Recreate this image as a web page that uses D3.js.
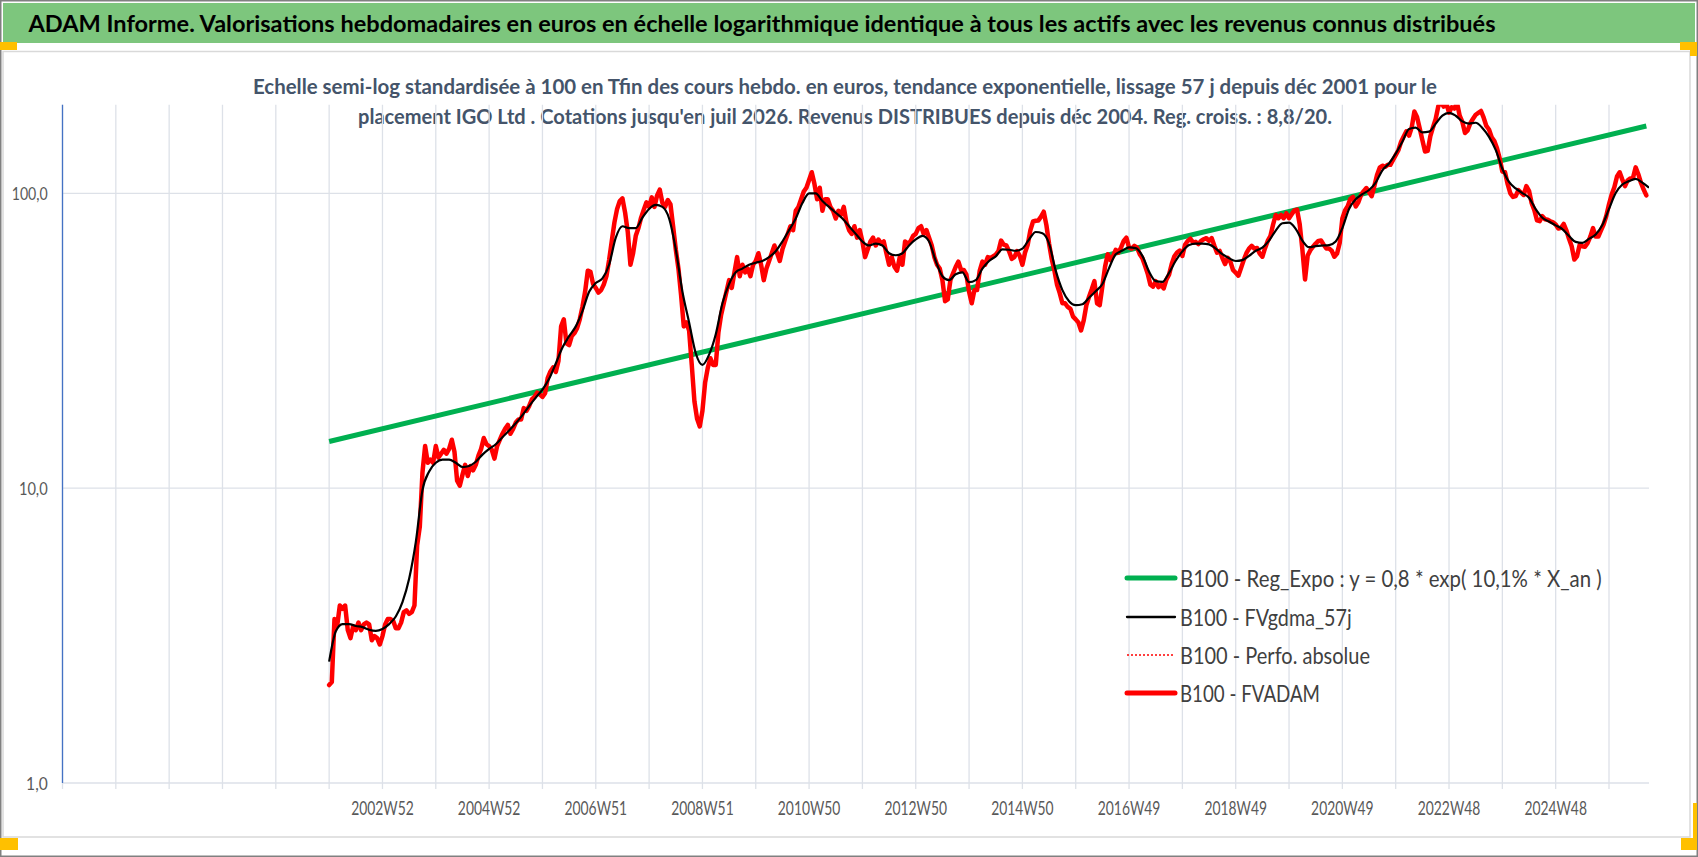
<!DOCTYPE html>
<html>
<head>
<meta charset="utf-8">
<script src="https://cdn.jsdelivr.net/npm/d3@7"></script>
<style>
  body { margin: 0; padding: 0; overflow: hidden; background: #fff; }
  text { font-family: Lato, "Open Sans", sans-serif; }
</style>
</head>
<body>
<script>
// ---- data ----
const titleText = "ADAM Informe. Valorisations hebdomadaires en euros en échelle logarithmique identique à tous les actifs avec les revenus connus distribués";
const subtitleLines = [
  "Echelle semi-log standardisée à 100 en Tfin des cours hebdo. en euros, tendance exponentielle, lissage 57 j depuis déc 2001 pour le",
  "placement IGO Ltd . Cotations jusqu'en juil 2026. Revenus DISTRIBUES depuis déc 2004. Reg. croiss. : 8,8/20."
];

const gridYears = d3.range(1997, 2027);
const xLabelYears = [2003, 2005, 2007, 2009, 2011, 2013, 2015, 2017, 2019, 2021, 2023, 2025];
const xLabels = ["2002W52", "2004W52", "2006W51", "2008W51", "2010W50", "2012W50", "2014W50", "2016W49", "2018W49", "2020W49", "2022W48", "2024W48"];

const yTicks = [1, 10, 100];
const yLabels = ["1,0", "10,0", "100,0"];

const legendLabels = [
  "B100 - Reg_Expo : y = 0,8 * exp( 10,1% *  X_an )",
  "B100 - FVgdma_57j",
  "B100 - Perfo. absolue",
  "B100 - FVADAM"
];

// B100 - FVADAM, one value every 0.05 year from dec 2001
const fvadamStart = 2002.0, fvadamStep = 0.05;
const fvadamValues = [
  2.15, 2.2, 3.6, 3.4, 4.0, 3.9, 4.0, 3.3, 3.1, 3.4,
  3.3, 3.5, 3.3, 3.45, 3.5, 3.45, 3.05, 3.15, 3.1, 2.95,
  3.15, 3.45, 3.6, 3.6, 3.55, 3.35, 3.35, 3.5, 3.8, 3.85,
  3.75, 3.8, 4.0, 6.4, 7.4, 11.3, 13.9, 12.2, 12.5, 12.2,
  13.9, 12.7, 13.1, 13.5, 13.1, 13.6, 14.6, 13.3, 10.6, 10.2,
  11.1, 12.0, 11.0, 11.9, 11.5, 12.0, 12.9, 13.6, 14.8, 14.1,
  13.9, 13.5, 12.6, 13.9, 14.6, 15.3, 15.9, 16.4, 15.3, 15.9,
  16.7, 17.1, 17.1, 18.7, 18.3, 19.0, 20.0, 20.4, 21.1, 20.8,
  20.4, 21.0, 23.7, 24.9, 25.7, 24.8, 27.0, 35.4, 37.4, 31.0,
  30.6, 32.8, 33.6, 34.9, 37.4, 41.2, 46.4, 54.7, 54.2, 49.3,
  47.8, 46.1, 47.0, 49.1, 52.4, 59.4, 69.0, 79.8, 88.6, 94.2,
  96.2, 86.1, 74.0, 57.3, 62.7, 71.8, 76.3, 82.8, 88.1, 93.3,
  90.0, 97.0, 90.0, 98.5, 103, 92.8, 90.0, 95.0, 92.0, 77.4,
  64.6, 55.6, 45.1, 35.4, 36.5, 34.3, 26.2, 19.7, 17.2, 16.2,
  18.3, 22.8, 25.6, 27.6, 26.2, 26.2, 33.8, 38.7, 42.4, 46.4,
  50.8, 47.8, 54.0, 60.8, 52.4, 57.3, 54.0, 55.6, 52.4, 57.3,
  59.0, 62.7, 57.3, 50.8, 55.6, 59.0, 62.7, 66.6, 62.7, 59.0,
  64.6, 68.7, 72.9, 77.4, 75.1, 87.3, 90.0, 95.6, 101.5, 104.6,
  111.1, 118.0, 107.8, 95.6, 104.6, 87.3, 95.6, 95.6, 90.0, 87.3,
  82.2, 87.3, 84.7, 90.0, 79.8, 75.1, 72.9, 77.4, 70.8, 75.1,
  68.7, 60.8, 64.6, 68.7, 70.8, 66.6, 69.8, 67.6, 68.7, 62.7,
  57.3, 60.8, 56.4, 54.7, 60.8, 57.3, 68.7, 67.6, 68.7, 71.8,
  72.9, 76.3, 77.4, 72.9, 75.1, 70.8, 66.6, 60.8, 57.3, 55.6,
  50.8, 43.1, 43.7, 50.8, 53.6, 56.4, 58.7, 55.0, 55.0, 53.0,
  46.4, 42.4, 47.0, 47.0, 54.7, 58.7, 57.3, 60.8,
  60.4, 61.2, 62.0, 63.7, 69.2, 67.0, 66.6, 63.7, 60.0, 60.8,
  63.7, 61.4, 57.3, 63.0, 67.0, 75.1, 80.3, 80.8, 81.0, 83.4,
  86.7, 78.1, 67.6, 59.9, 54.7, 49.0, 45.9, 42.4, 42.4, 41.2,
  40.6, 38.2, 37.4, 36.5, 34.3, 37.1, 41.8, 44.6, 47.3, 50.4,
  42.4, 41.8, 48.5, 56.4, 62.2, 59.4, 61.2, 64.4, 63.0, 65.6,
  69.0, 70.8, 65.5, 65.0, 66.4, 65.5, 62.2, 60.3, 56.8, 53.4,
  49.0, 48.3, 50.4, 48.1, 49.0, 47.6, 51.0, 53.0, 57.6, 61.2,
  63.0, 64.0, 61.4, 67.0, 69.0, 70.2, 68.2, 68.5, 67.3, 69.0,
  69.9, 70.5, 69.0, 70.5, 66.4, 63.0, 63.8, 60.4, 57.6, 60.5,
  58.7, 55.0, 53.8, 52.6, 55.8, 59.4, 62.7, 65.0, 66.4, 65.0,
  65.3, 62.5, 61.0, 65.2, 69.0, 71.6, 78.3, 84.5, 82.4, 84.5,
  82.4, 85.7, 82.4, 85.0, 87.6, 88.1, 78.6, 64.6, 51.1, 61.6,
  64.2, 66.0, 67.6, 69.0, 69.2, 67.0, 65.0, 65.0, 63.9, 61.0,
  62.5, 67.9, 82.2, 87.6, 90.5, 95.9, 97.3, 90.3, 93.3, 98.8,
  101.8, 104.3, 100.9, 97.9, 105.9, 115.5, 122.3, 124.2, 123.1, 125.0,
  125.0, 129.9, 134.8, 140.1, 149.4, 156.1, 162.5, 157.0, 167.3, 189.6,
  181.8, 166.3, 151.9, 138.8, 139.5, 156.5, 167.8, 178.8, 198, 204,
  197, 202, 188, 196, 194, 203, 183.5, 174.8, 160.3, 163.7,
  173.2, 179.2, 184.9, 187.6, 190.4, 180.7, 169.4, 164.8, 155.2, 150.6,
  142.2, 131.5, 118.7, 118.0, 107.5, 100.1, 97.3, 97.9, 102.7, 100.6,
  98.8, 105.9, 102.1, 92.6, 87.8, 81.0, 80.5, 83.7, 81.7, 81.4,
  80.5, 79.8, 78.5, 76.0, 76.5, 78.8, 75.0, 70.2, 66.2, 59.7,
  61.2, 67.0, 66.2, 65.9, 67.9, 71.4, 76.3, 71.4, 71.4, 75.0,
  78.6, 84.0, 91.9, 99.1, 104.9, 114.1, 118.0, 111.4, 105.9, 110.8,
  112.4, 112.9, 122.6, 116.2, 108.5, 103.1, 98.5
];

// B100 - FVgdma_57j, one value every 0.125 year
const gdmaStart = 2002.0, gdmaStep = 0.125;
const gdmaValues = [
  2.58, 3.27, 3.46, 3.46, 3.41, 3.38, 3.31, 3.28, 3.33, 3.46,
  3.67, 4.11, 4.93, 6.56, 9.85, 11.4, 12.2, 12.5, 12.5, 12.2,
  11.8, 11.9, 12.3, 13.0, 13.6, 14.1, 14.9, 15.7, 16.6, 17.7,
  19.0, 20.3, 21.6, 23.5, 26.5, 30.0, 32.8, 35.4, 39.9, 46.4,
  49.7, 51.5, 57.3, 70.8, 77.4, 76.3, 76.3, 82.8,
  88.6, 91.4, 90.0, 82.2, 64.6, 46.4, 36.5, 28.7, 26.2, 28.4,
  33.3, 42.4, 49.3, 54.0, 55.6, 57.3, 58.2, 59.0, 60.8, 63.7,
  68.7, 75.1, 82.2, 92.8, 100, 100, 94.2, 90.0, 86.0, 82.2,
  77.4, 72.9, 68.7, 66.6, 67.6, 66.6, 62.7, 61.7, 62.7, 66.6,
  69.8, 71.8, 68.7, 59.0, 52.4, 50.8, 53.2, 54.0, 50.0, 50.8,
  55.6, 59.0,
  61.2, 64.6, 64.4, 63.9, 65.0, 69.8, 74.0, 73.3, 67.6, 54.7,
  47.0, 43.1, 41.8, 42.1, 44.3, 46.6, 49.3, 55.8, 62.2, 64.0,
  65.6, 65.2, 61.4, 54.3, 50.4, 50.1, 53.8, 59.1, 63.6, 66.8,
  67.6, 67.6, 67.2, 65.0, 62.2, 60.3, 59.0, 59.4, 61.4, 63.9,
  65.5, 69.2, 74.8, 79.2, 79.6, 75.8, 69.2, 65.7,
  66.3, 66.6, 66.8, 68.7, 76.3, 88.6, 95.6, 99.4, 102.7, 108.8,
  119.8, 126.4, 136.4, 149.7, 165.3, 167.3, 161.0, 162.0, 172.5, 183.5,
  187.6, 183.5, 175.6, 172.5, 173.7, 166.8, 155.6, 140.5, 121.3, 109.4,
  104.0, 100.3, 96.7, 88.4, 82.7, 80.3, 77.9, 75.7, 71.7, 68.5,
  68.0, 70.1, 72.6, 78.1, 88.6, 100.3, 107.2, 110.1, 112.1, 108.8,
  104.6
];

// B100 - Reg_Expo, the two ends of the trend line
const regDates = [2002.0, 2026.7];
const regValues = [14.4, 169.4];

// ---- page ----
const W = 1698, H = 857;
const body = d3.select("body");
const svg = body.append("svg").attr("width", W).attr("height", H);

svg.append("rect").attr("x", 0).attr("y", 0).attr("width", W).attr("height", H).attr("fill", "#fff");

// title bar
svg.append("rect").attr("x", 3).attr("y", 3).attr("width", 1692).attr("height", 40).attr("fill", "#7DC67D");

// chart area
svg.append("rect").attr("x", 3).attr("y", 51.5).attr("width", 1687).attr("height", 785.5)
   .attr("fill", "#fff").attr("stroke", "#D9D9D9").attr("stroke-width", 1.5);

// outer frame
svg.append("rect").attr("x", 0.75).attr("y", 0.75).attr("width", W - 1.5).attr("height", H - 1.5)
   .attr("fill", "none").attr("stroke", "#808080").attr("stroke-width", 1.5);

// orange handles
const orange = "#FFC000";
[[0, 42, 17, 8], [1680, 42, 17, 8], [1690, 42, 7, 14], [0, 838, 18, 12], [1693, 803, 4, 40], [1681, 838, 16, 12]]
  .forEach(r => svg.append("rect").attr("x", r[0]).attr("y", r[1]).attr("width", r[2]).attr("height", r[3]).attr("fill", orange));

function fit(sel, width) {
  return sel.attr("textLength", width).attr("lengthAdjust", "spacingAndGlyphs");
}

fit(svg.append("text").attr("x", 28.5).attr("y", 32)
   .attr("font-size", 23).attr("font-weight", 700).attr("fill", "#000").text(titleText), 1467);

const subX = [253, 358], subY = [93.5, 124], subW = [1184, 974];
subtitleLines.forEach((s, i) => {
  fit(svg.append("text").attr("x", subX[i]).attr("y", subY[i])
     .attr("font-size", 21).attr("font-weight", 700).attr("fill", "#44546A").text(s), subW[i]);
});

// ---- scales ----
const x = d3.scaleLinear().domain([1997, 2026.75]).range([62.5, 1649]);
const y = d3.scaleLog().domain([1, 200]).range([783, 104.7]);

const plot = svg.append("g");

// vertical grid + tick marks
plot.selectAll("line.vgrid").data(gridYears).enter().append("line")
  .attr("class", "vgrid")
  .attr("x1", d => x(d)).attr("x2", d => x(d))
  .attr("y1", y(200)).attr("y2", y(1) + 6)
  .attr("stroke", "#DDE1E8").attr("stroke-width", 1.3);

// horizontal grid
plot.selectAll("line.hgrid").data(yTicks).enter().append("line")
  .attr("class", "hgrid")
  .attr("x1", x(1997)).attr("x2", x(2026.75))
  .attr("y1", d => y(d)).attr("y2", d => y(d))
  .attr("stroke", "#DDE1E8").attr("stroke-width", 1.3);

// y axis line
plot.append("line").attr("x1", x(1997)).attr("x2", x(1997)).attr("y1", y(200)).attr("y2", y(1))
  .attr("stroke", "#4472C4").attr("stroke-width", 1.3);

// y labels
const yLabW = [21.6, 28.8, 36];
yTicks.forEach((t, i) => {
  fit(svg.append("text").attr("x", 47.7 - yLabW[i]).attr("y", y(t) + 6.5)
     .attr("font-size", 18).attr("fill", "#595959").text(yLabels[i]), yLabW[i]);
});

// x labels
xLabelYears.forEach((t, i) => {
  fit(svg.append("text").attr("x", x(t) - 31.25).attr("y", 814.5)
     .attr("font-size", 20).attr("fill", "#595959").text(xLabels[i]), 62.5);
});

// ---- series ----
svg.append("clipPath").attr("id", "plotclip").append("rect")
  .attr("x", x(1997)).attr("y", y(200)).attr("width", x(2026.75) - x(1997)).attr("height", y(1) - y(200));

const series = svg.append("g").attr("clip-path", "url(#plotclip)");

const regData = regDates.map((d, i) => [d, regValues[i]]);
const fvadamData = fvadamValues.map((v, i) => [fvadamStart + i * fvadamStep, v]);
const gdmaData = gdmaValues.map((v, i) => [gdmaStart + i * gdmaStep, v]);

const line = d3.line().x(d => x(d[0])).y(d => y(d[1]));

series.append("path").datum(regData).attr("d", line)
  .attr("fill", "none").attr("stroke", "#00B050").attr("stroke-width", 5);

series.append("path").datum(fvadamData).attr("d", line)
  .attr("fill", "none").attr("stroke", "#FF0000").attr("stroke-width", 4.5)
  .attr("stroke-linejoin", "round").attr("stroke-linecap", "round");

series.append("path").datum(gdmaData).attr("d", d3.line().curve(d3.curveMonotoneX).x(d => x(d[0])).y(d => y(d[1])))
  .attr("fill", "none").attr("stroke", "#000").attr("stroke-width", 2.2)
  .attr("stroke-linejoin", "round");

// ---- legend ----
const legStyle = [
  { color: "#00B050", width: 5, dash: null },
  { color: "#000", width: 2.3, dash: null },
  { color: "#FF0000", width: 1.6, dash: "2,2" },
  { color: "#FF0000", width: 5, dash: null }
];
const legY = [578, 617, 655, 693];
const legW = [421.7, 171.7, 190, 140];

const legend = svg.append("g");
legendLabels.forEach((lab, i) => {
  legend.append("line").attr("x1", 1127).attr("x2", 1175).attr("y1", legY[i]).attr("y2", legY[i])
    .attr("stroke", legStyle[i].color).attr("stroke-width", legStyle[i].width)
    .attr("stroke-dasharray", legStyle[i].dash)
    .attr("stroke-linecap", legStyle[i].dash ? "butt" : "round");
  fit(legend.append("text").attr("x", 1180).attr("y", legY[i] + 8.5)
     .attr("font-size", 24).attr("fill", "#404040").text(lab), legW[i]);
});
</script>
</body>
</html>
